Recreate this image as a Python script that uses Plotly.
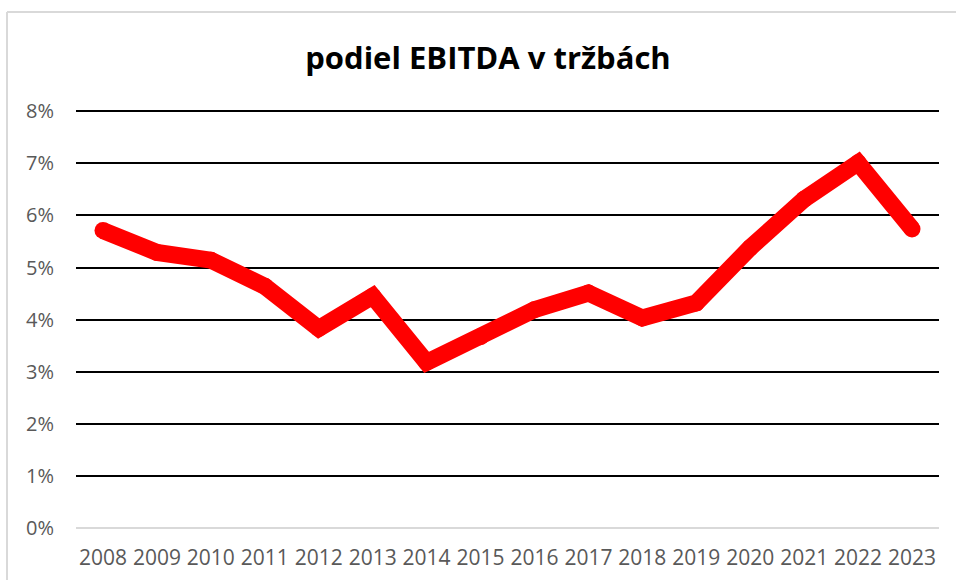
import plotly.graph_objects as go

# Share of EBITDA in revenue, by year
years = ["2008", "2009", "2010", "2011", "2012", "2013", "2014", "2015",
         "2016", "2017", "2018", "2019", "2020", "2021", "2022", "2023"]
ebitda_share = [5.71, 5.29, 5.14, 4.64, 3.83, 4.45, 3.18, 3.67,
                4.19, 4.51, 4.03, 4.32, 5.38, 6.31, 7.01, 5.74]
y_ticks = [0, 1, 2, 3, 4, 5, 6, 7, 8]
y_tick_labels = [f"{v}%" for v in y_ticks]

W, H = 956, 580
M_L, M_R, M_T, M_B = 76, 17, 106, 52
plot_w = W - M_L - M_R
plot_h = H - M_T - M_B
LINE_W = 17


def px_to_paper_x(px):
    return (px - M_L) / plot_w


def px_to_paper_y(py):
    return (H - M_B - py) / plot_h


fig = go.Figure()
# thick line; round dots of the same width give rounded joins and caps
fig.add_trace(go.Scatter(
    x=years,
    y=ebitda_share,
    mode="lines+markers",
    line=dict(color="#ff0000", width=LINE_W),
    marker=dict(color="#ff0000", size=LINE_W, line=dict(width=0)),
    hoverinfo="x+y",
    showlegend=False,
))

label_font = dict(family="Open Sans, sans-serif", size=20, color="#595959")

# chart-area frame: only the top and left edges fall inside the canvas
frame = dict(color="#d9d9d9", width=2)
frame_shapes = [
    dict(type="line", xref="paper", yref="paper",
         x0=px_to_paper_x(7), x1=px_to_paper_x(W),
         y0=px_to_paper_y(12), y1=px_to_paper_y(12),
         line=frame, layer="below"),
    dict(type="line", xref="paper", yref="paper",
         x0=px_to_paper_x(7), x1=px_to_paper_x(7),
         y0=px_to_paper_y(12), y1=px_to_paper_y(H),
         line=frame, layer="below"),
]

fig.update_layout(
    width=W,
    height=H,
    margin=dict(l=M_L, r=M_R, t=M_T, b=M_B, pad=0, autoexpand=False),
    paper_bgcolor="white",
    plot_bgcolor="white",
    title=dict(
        text="<b>podiel EBITDA v tržbách</b>",
        x=488 / W, xref="container", xanchor="center",
        y=1 - 58 / H, yref="container", yanchor="middle",
        font=dict(family="Open Sans, sans-serif", size=31, color="black"),
    ),
    xaxis=dict(
        type="category",
        range=[-0.5, len(years) - 0.5],
        showgrid=False,
        showline=False,
        zeroline=False,
        ticks="",
        tickfont=dict(label_font, size=21),
        ticklabelstandoff=15,
        automargin=False,
        fixedrange=True,
    ),
    yaxis=dict(
        range=[0, 8.1],
        tickvals=y_ticks,
        ticktext=y_tick_labels,
        showgrid=True,
        gridcolor="black",
        gridwidth=2,
        zeroline=True,
        zerolinecolor="#d9d9d9",
        zerolinewidth=2,
        showline=False,
        ticks="",
        tickfont=label_font,
        ticklabelstandoff=21,
        automargin=False,
        fixedrange=True,
    ),
    shapes=frame_shapes,
)

fig.write_html("out.html")
